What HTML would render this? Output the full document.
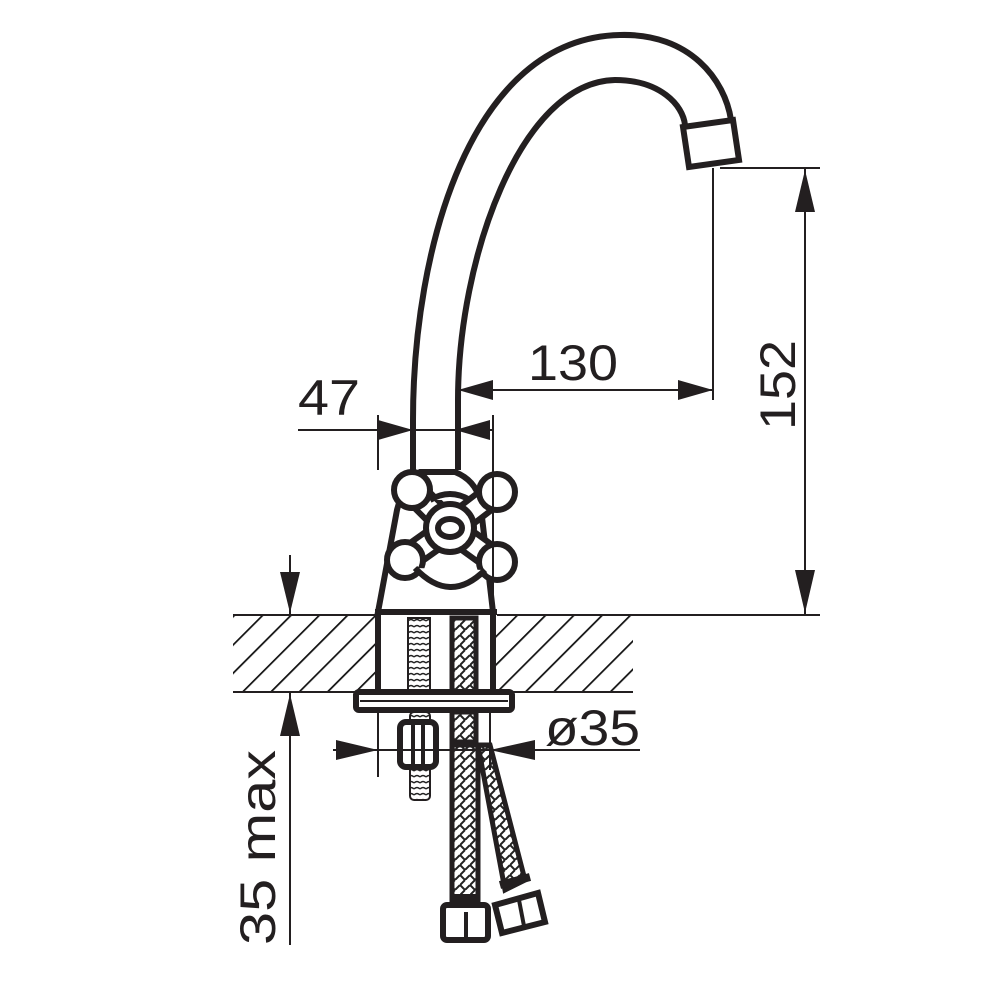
<!DOCTYPE html>
<html><head><style>html,body{margin:0;padding:0;background:#fff}svg{display:block}</style></head>
<body>
<svg width="1000" height="1000" viewBox="0 0 1000 1000" xmlns="http://www.w3.org/2000/svg">
<defs>
<pattern id="h" width="20" height="20" patternUnits="userSpaceOnUse" patternTransform="rotate(45)">
<line x1="0" y1="0" x2="0" y2="20" stroke="#111" stroke-width="3.5"/>
</pattern>
<pattern id="br" width="10" height="10" patternUnits="userSpaceOnUse">
<path d="M0 5 L5 0 M5 10 L10 5 M0 5 L5 10" stroke="#222" stroke-width="2" fill="none"/>
</pattern>
<pattern id="th" width="6" height="6" patternUnits="userSpaceOnUse">
<path d="M0 3 Q3 0 6 3" stroke="#222" stroke-width="1.5" fill="none"/>
</pattern>
</defs>
<g fill="none" stroke="#231f20">
<rect x="233" y="615" width="145" height="77" fill="url(#h)" stroke="none"/>
<rect x="493" y="615" width="140" height="77" fill="url(#h)" stroke="none"/>
<line x1="233" y1="692" x2="356" y2="692" stroke-width="2"/>
<line x1="512" y1="692" x2="633" y2="692" stroke-width="2"/>
<path d="M413 420 C413 250 470 38 620 35 C690 33 725 80 731 120" stroke-width="6"/>
<path d="M458 400 C458 260 520 82 615 80 C660 80 683 105 685 125" stroke-width="6"/>
<path d="M683 127 L733 120 L739 160 L689 167 Z" stroke-width="6" fill="#fff"/>
<line x1="413" y1="420" x2="413" y2="470" stroke-width="6"/>
<line x1="458" y1="400" x2="458" y2="470" stroke-width="6"/>
<path d="M378 612 L397 510 Q405 478 420 472 L455 472 Q475 480 480 500 L493 612 Z" stroke-width="6" fill="#fff"/>
<line x1="375" y1="612" x2="497" y2="612" stroke-width="6"/>
<g stroke-width="6" fill="#fff">
<path d="M450 528 L412 490 M450 528 L497 492 M450 528 L405 560 M450 528 L497 562" stroke-width="28" stroke="#231f20"/>
<path d="M450 528 L412 490 M450 528 L497 492 M450 528 L405 560 M450 528 L497 562" stroke-width="16" stroke="#fff"/>
<circle cx="412" cy="490" r="18"/><circle cx="497" cy="492" r="18"/>
<circle cx="405" cy="560" r="18"/><circle cx="497" cy="562" r="18"/>
<circle cx="450" cy="528" r="24"/>
<ellipse cx="450" cy="528" rx="12" ry="9"/>
<path d="M415 568 Q450 605 485 570"/>
<path d="M430 500 Q450 488 470 500"/>
</g>
<line x1="378" y1="615" x2="378" y2="692" stroke-width="6"/>
<line x1="493" y1="615" x2="493" y2="692" stroke-width="6"/>
<rect x="356" y="692" width="156" height="18" rx="3" stroke-width="6" fill="#fff"/>
<line x1="360" y1="701" x2="508" y2="701" stroke-width="2"/>
<rect x="408" y="618" width="22" height="74" fill="url(#th)" stroke="#231f20" stroke-width="2"/>
<rect x="410" y="712" width="20" height="88" rx="4" fill="url(#th)" stroke="#231f20" stroke-width="2"/>
<rect x="452" y="618" width="24" height="74" fill="url(#br)" stroke-width="5"/>
<rect x="452" y="712" width="24" height="30" fill="url(#br)" stroke-width="5"/>
<rect x="400" y="722" width="36" height="45" rx="6" stroke-width="6" fill="#fff"/>
<line x1="413" y1="724" x2="413" y2="765" stroke-width="4"/><line x1="423" y1="724" x2="423" y2="765" stroke-width="4"/>
<path d="M452 745 L478 745 L478 900 L452 900 Z" fill="url(#br)" stroke-width="5"/>
<path d="M478 745 L490 745 L525 880 L505 890 Z" fill="url(#br)" stroke-width="5"/>
<rect x="443" y="905" width="45" height="35" rx="4" stroke-width="6" fill="#fff"/>
<line x1="466" y1="912" x2="466" y2="938" stroke-width="4"/>
<path d="M495 905 L538 893 L545 922 L502 933 Z" stroke-width="6" fill="#fff"/>
<line x1="519" y1="900" x2="524" y2="926" stroke-width="4"/>
<line x1="450" y1="898" x2="480" y2="898" stroke-width="8"/>
<path d="M500 885 L530 877" stroke-width="8"/>
<g stroke-width="2">
<line x1="298" y1="430" x2="493" y2="430"/>
<line x1="378" y1="415" x2="378" y2="470"/>
<line x1="493" y1="415" x2="493" y2="612"/>
<line x1="458" y1="390" x2="713" y2="390"/>
<line x1="713" y1="168" x2="713" y2="400"/>
<line x1="720" y1="168" x2="820" y2="168"/>
<line x1="805" y1="168" x2="805" y2="615"/>
<line x1="497" y1="615" x2="820" y2="615"/>
<line x1="233" y1="615" x2="375" y2="615"/>
<line x1="290" y1="555" x2="290" y2="615"/>
<line x1="290" y1="692" x2="290" y2="945"/>
<line x1="333" y1="750" x2="640" y2="750"/>
<line x1="378" y1="710" x2="378" y2="777"/>
<line x1="490" y1="710" x2="490" y2="770"/>
</g>
</g>
<g fill="#231f20">
<path d="M413 430 L378 420 L378 440 Z"/>
<path d="M455 430 L490 420 L490 440 Z"/>
<path d="M458 390 L493 380 L493 400 Z"/>
<path d="M713 390 L678 380 L678 400 Z"/>
<path d="M805 170 L795 212 L815 212 Z"/>
<path d="M805 613 L795 570 L815 570 Z"/>
<path d="M290 613 L280 572 L300 572 Z"/>
<path d="M290 694 L280 736 L300 736 Z"/>
<path d="M378 750 L336 740 L336 760 Z"/>
<path d="M490 750 L535 740 L535 760 Z"/>
</g>
<g font-family="Liberation Sans, sans-serif" font-size="50" fill="#231f20">
<text x="298" y="415" textLength="62" lengthAdjust="spacingAndGlyphs">47</text>
<text x="528" y="380" textLength="90" lengthAdjust="spacingAndGlyphs">130</text>
<text x="545" y="745" textLength="95" lengthAdjust="spacingAndGlyphs">ø35</text>
<text transform="translate(795,430) rotate(-90)" textLength="90" lengthAdjust="spacingAndGlyphs">152</text>
<text transform="translate(275,945) rotate(-90)" textLength="195" lengthAdjust="spacingAndGlyphs">35 max</text>
</g>
</svg>
</body></html>
